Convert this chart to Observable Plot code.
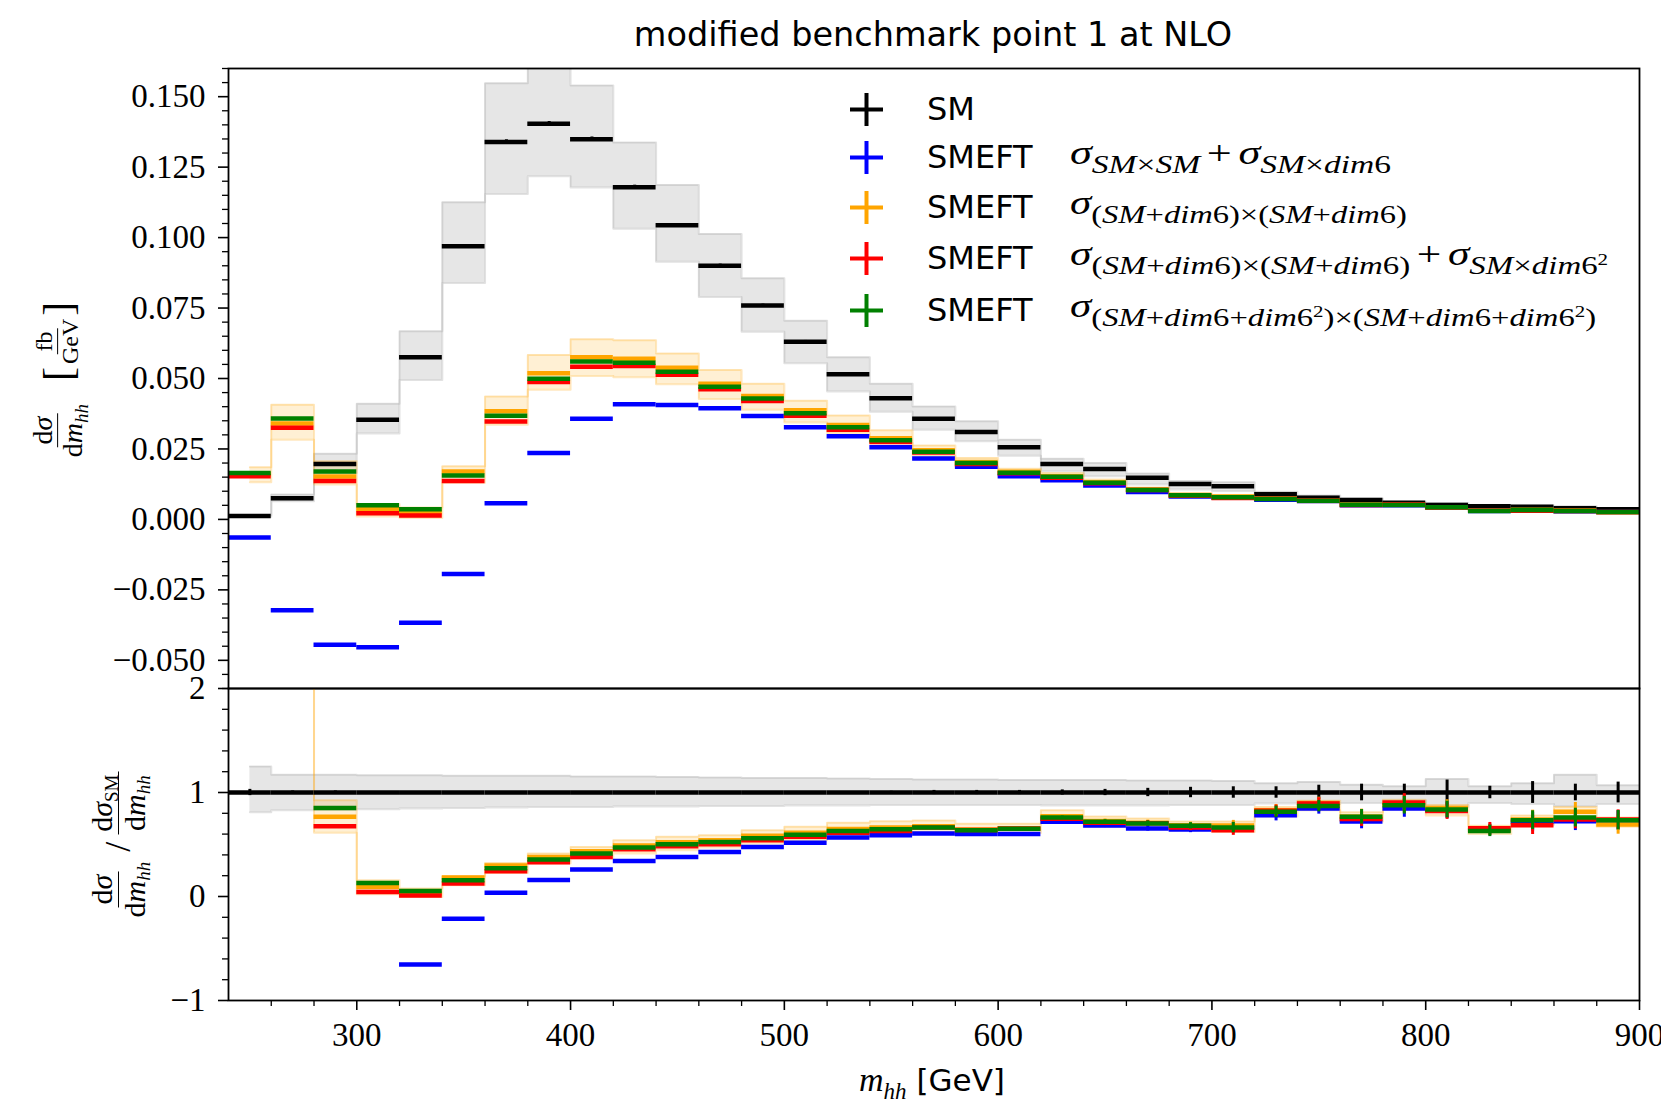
<!DOCTYPE html>
<html><head><meta charset="utf-8">
<script src="https://cdn.jsdelivr.net/npm/d3@7"></script>
<script src="https://cdn.jsdelivr.net/npm/@observablehq/plot@0.6"></script>
<style>
html,body{margin:0;padding:0;background:#fff;overflow:hidden}
#fig{position:relative;width:1661px;height:1102px;background:#fff}
#fig svg{position:absolute;left:0;overflow:visible}
.title{position:absolute;left:933px;top:34px;transform:translate(-50%,-50%);font-family:"DejaVu Sans";font-size:33.5px;white-space:nowrap;color:#000}
.leg{position:absolute;left:850px;height:44px;display:flex;align-items:center;white-space:nowrap}
.cross{width:33px;height:33px;margin-right:44px;flex:none}
.lname{font-family:"DejaVu Sans";font-size:32px;width:143px;flex:none}
.math{font-family:"Liberation Serif";font-size:33px;display:inline-block;position:relative;top:-4px;transform-origin:0 50%}
.math sub{font-size:25px;vertical-align:baseline;position:relative;top:0.36em}
.math sup{font-size:16px;vertical-align:baseline;position:relative;top:-0.55em}
.op{padding:0 5px}
.xlab{position:absolute;left:932px;top:1080px;transform:translate(-50%,-50%);white-space:nowrap}
.ylab{position:absolute;transform:translate(-50%,-50%) rotate(-90deg);white-space:nowrap;display:flex;align-items:center;font-family:"Liberation Serif";font-size:28px}
.frac{display:inline-flex;flex-direction:column;align-items:center;line-height:1.05}
.frac>span:first-child{border-bottom:1.7px solid #000}
.frac>span{padding:0 3px}
.ylab sub{font-size:19px;vertical-align:baseline;position:relative;top:0.3em}
</style>
</head><body>
<div id="fig"></div>
<script>
// ---------------- data ----------------
const binLow = [240,260,280,300,320,340,360,380,400,420,440,460,480,500,520,540,560,580,600,620,640,660,680,700,720,740,760,780,800,820,840,860,880];
const binWidth = 20;
const bandStart = 250;

// upper panel: d sigma / d m_hh [fb/GeV]
const smValue = [0.0012,0.0075,0.0197,0.0354,0.0575,0.0969,0.1339,0.1404,0.1349,0.1179,0.1044,0.0900,0.0759,0.0630,0.0515,0.0430,0.0357,0.0310,0.0256,0.0197,0.0179,0.0148,0.0126,0.0118,0.0089,0.0077,0.0069,0.0059,0.0051,0.0047,0.0045,0.0040,0.0036];
const smErr = [0.0001,0.0001,0.0002,0.0003,0.0004,0.0006,0.0008,0.0008,0.0008,0.0007,0.0006,0.0006,0.0005,0.0005,0.0004,0.0003,0.0003,0.0003,0.0003,0.0003,0.0003,0.0003,0.0003,0.0003,0.0003,0.0003,0.0003,0.0003,0.0003,0.0003,0.0003,0.0003,0.0003];
const smBandLo = [0.0009,0.0064,0.0165,0.0305,0.0495,0.0839,0.1155,0.1218,0.1178,0.1031,0.0914,0.0789,0.0666,0.0554,0.0454,0.0382,0.0318,0.0277,0.0226,0.0171,0.0153,0.0124,0.0106,0.0101,0.0080,0.0068,0.0062,0.0054,0.0044,0.0042,0.0040,0.0035,0.0032];
const smBandHi = [0.0015,0.0088,0.0233,0.0410,0.0668,0.1125,0.1548,0.1630,0.1540,0.1337,0.1187,0.1013,0.0856,0.0705,0.0575,0.0481,0.0401,0.0348,0.0283,0.0215,0.0200,0.0163,0.0136,0.0132,0.0098,0.0085,0.0074,0.0063,0.0058,0.0050,0.0049,0.0047,0.0039];
const blueValue = [-0.0064,-0.0322,-0.0445,-0.0454,-0.0367,-0.0194,0.0057,0.0236,0.0357,0.0409,0.0406,0.0394,0.0367,0.0327,0.0295,0.0256,0.0216,0.0187,0.0153,0.0139,0.0120,0.0097,0.0081,0.0078,0.0070,0.0065,0.0050,0.0050,0.0042,0.0030,0.0032,0.0029,0.0026];
const orangeValue = [0.0160,0.0340,0.0152,0.0036,0.0026,0.0170,0.0384,0.0519,0.0575,0.0570,0.0538,0.0481,0.0438,0.0387,0.0335,0.0288,0.0245,0.0204,0.0169,0.0153,0.0132,0.0106,0.0087,0.0081,0.0074,0.0067,0.0053,0.0052,0.0043,0.0031,0.0034,0.0032,0.0025];
const redValue = [0.0153,0.0325,0.0136,0.0022,0.0014,0.0136,0.0347,0.0488,0.0542,0.0544,0.0513,0.0462,0.0420,0.0368,0.0318,0.0275,0.0237,0.0197,0.0164,0.0148,0.0128,0.0104,0.0084,0.0076,0.0073,0.0068,0.0051,0.0053,0.0042,0.0031,0.0031,0.0030,0.0026];
const greenValue = [0.0165,0.0358,0.0170,0.0050,0.0036,0.0156,0.0368,0.0499,0.0560,0.0556,0.0524,0.0471,0.0429,0.0377,0.0327,0.0281,0.0240,0.0200,0.0166,0.0151,0.0130,0.0104,0.0086,0.0079,0.0072,0.0066,0.0052,0.0051,0.0043,0.0030,0.0033,0.0030,0.0026];
const orangeBandLo = [0.0132,0.0283,0.0124,0.0010,0.0005,0.0130,0.0336,0.0460,0.0509,0.0504,0.0480,0.0427,0.0389,0.0344,0.0307,0.0271,0.0225,0.0187,0.0155,0.0140,0.0122,0.0097,0.0080,0.0073,0.0066,0.0059,0.0046,0.0047,0.0037,0.0030,0.0031,0.0025,0.0023];
const orangeBandHi = [0.0185,0.0407,0.0206,0.0055,0.0042,0.0189,0.0436,0.0583,0.0639,0.0636,0.0589,0.0530,0.0481,0.0421,0.0369,0.0316,0.0262,0.0218,0.0180,0.0165,0.0142,0.0113,0.0093,0.0086,0.0078,0.0069,0.0055,0.0054,0.0043,0.0035,0.0036,0.0030,0.0027];

// lower panel: ratio to SM
const smRatioErr = [0.03,0.015,0.015,0.008,0.008,0.008,0.008,0.008,0.008,0.008,0.008,0.008,0.008,0.008,0.008,0.012,0.02,0.02,0.02,0.025,0.03,0.04,0.05,0.055,0.055,0.07,0.08,0.08,0.12,0.06,0.105,0.08,0.10];
const smRatioBandLo = [0.81,0.83,0.835,0.84,0.845,0.85,0.855,0.86,0.86,0.865,0.865,0.87,0.87,0.875,0.875,0.88,0.88,0.88,0.88,0.875,0.875,0.875,0.88,0.88,0.895,0.89,0.90,0.92,0.86,0.90,0.89,0.87,0.89];
const smRatioBandHi = [1.25,1.17,1.17,1.165,1.165,1.16,1.16,1.16,1.155,1.155,1.15,1.145,1.14,1.14,1.135,1.13,1.125,1.125,1.12,1.12,1.12,1.115,1.115,1.11,1.09,1.10,1.075,1.06,1.13,1.06,1.09,1.17,1.07];
const blueRatio = [-6.4,-4.3,-2.3,-1.3,-0.655,-0.213,0.037,0.159,0.259,0.342,0.381,0.429,0.477,0.516,0.567,0.59,0.606,0.60,0.60,0.718,0.683,0.654,0.644,0.66,0.782,0.847,0.721,0.847,0.83,0.64,0.718,0.724,0.73];
const orangeRatio = [16,4.5,0.766,0.092,0.028,0.182,0.298,0.381,0.436,0.49,0.522,0.541,0.583,0.612,0.65,0.663,0.676,0.645,0.655,0.772,0.725,0.71,0.685,0.682,0.83,0.90,0.77,0.89,0.85,0.64,0.74,0.814,0.692];
const redRatio = [15,4.3,0.676,0.044,0.009,0.124,0.243,0.33,0.381,0.455,0.484,0.503,0.541,0.574,0.612,0.631,0.663,0.64,0.654,0.747,0.709,0.705,0.663,0.638,0.824,0.895,0.744,0.904,0.821,0.657,0.686,0.74,0.74];
const greenRatio = [16.5,4.8,0.85,0.131,0.053,0.156,0.272,0.355,0.413,0.471,0.503,0.525,0.56,0.593,0.631,0.647,0.663,0.638,0.651,0.759,0.718,0.702,0.68,0.663,0.814,0.869,0.766,0.878,0.837,0.631,0.734,0.759,0.734];
const smeftRatioErr = [0,0,0,0,0,0,0,0,0,0,0,0,0,0,0,0,0,0,0.01,0.015,0.02,0.025,0.03,0.05,0.055,0.055,0.07,0.085,0.08,0.055,0.09,0.09,0.093];
const orangeRatioBandLo = [13,3.8,0.612,0.022,-0.004,0.108,0.227,0.317,0.365,0.413,0.445,0.471,0.509,0.541,0.58,0.599,0.62,0.60,0.61,0.71,0.67,0.66,0.64,0.62,0.77,0.83,0.72,0.84,0.78,0.60,0.69,0.76,0.67];
const orangeRatioBandHi = [19,5.4,0.926,0.156,0.076,0.195,0.323,0.413,0.477,0.541,0.574,0.59,0.638,0.67,0.708,0.724,0.73,0.70,0.70,0.83,0.77,0.75,0.72,0.72,0.86,0.92,0.81,0.93,0.88,0.68,0.78,0.86,0.76];

// ticks
const xTicks = [300,400,500,600,700,800,900];
const yTicksUpper = [-0.05,-0.025,0,0.025,0.05,0.075,0.1,0.125,0.15];
const yTicksLower = [-1,0,1,2];

const colors = {sm:"#000000", blue:"#0000ff", orange:"#ffa500", red:"#ff0000", green:"#008000"};

// --------------- build tables ---------------
const rows = binLow.map((lo, i) => ({
  lo, hi: lo + binWidth, c: lo + binWidth / 2,
  sm: smValue[i], smErr: smErr[i],
  blue: blueValue[i], orange: orangeValue[i], red: redValue[i], green: greenValue[i],
  rSmErr: smRatioErr[i],
  rBlue: blueRatio[i], rOrange: orangeRatio[i], rRed: redRatio[i], rGreen: greenRatio[i],
  rErr: smeftRatioErr[i]
}));
function bandPts(loArr, hiArr) {
  const pts = binLow.map((x, i) => ({x: i === 0 ? bandStart : x, lo: loArr[i], hi: hiArr[i]}));
  const n = binLow.length - 1;
  pts.push({x: binLow[n] + binWidth, lo: loArr[n], hi: hiArr[n]});
  return pts;
}
function bandMarks(pts, fill, fillOpacity, stroke, strokeOpacity) {
  return [
    Plot.areaY(pts, {x: "x", y1: "lo", y2: "hi", curve: "step-after", fill, fillOpacity, clip: true}),
    Plot.lineY(pts, {x: "x", y: "lo", curve: "step-after", stroke, strokeOpacity, strokeWidth: 2, clip: true}),
    Plot.lineY(pts, {x: "x", y: "hi", curve: "step-after", stroke, strokeOpacity, strokeWidth: 2, clip: true})
  ];
}
const minus = s => s.replace("-", "\u2212");
const round = v => Math.round(v * 1e6) / 1e6;
const yMinorUpper = d3.range(-60, 161, 5).map(v => round(v / 1000)).filter(v => !yTicksUpper.some(t => Math.abs(t - v) < 1e-9));
const yMinorLower = d3.range(-10, 21, 2).map(v => round(v / 10)).filter(v => !yTicksLower.includes(v));
const xMinor = d3.range(260, 900, 20).filter(v => !xTicks.includes(v));

const style = {fontFamily: "Liberation Serif", fontSize: "33px", background: "transparent", overflow: "visible", color: "#000"};
const W = 1661;

const hSeg = (y, stroke) => Plot.ruleY(rows, {y, x1: "lo", x2: "hi", stroke, strokeWidth: 4.5, clip: true});

const upper = Plot.plot({
  width: W, height: 689,
  marginLeft: 228, marginRight: 22, marginTop: 68, marginBottom: 1,
  style,
  x: {domain: [240, 900], axis: null},
  y: {domain: [-0.06, 0.16], axis: null},
  marks: [
    ...bandMarks(bandPts(smBandLo, smBandHi), "#808080", 0.2, "#a0a0a0", 0.3),
    ...bandMarks(bandPts(orangeBandLo, orangeBandHi), colors.orange, 0.17, colors.orange, 0.25),
    hSeg("sm", colors.sm),
    Plot.ruleX(rows, {x: "c", y1: d => d.sm - d.smErr, y2: d => d.sm + d.smErr, stroke: colors.sm, strokeWidth: 3, clip: true}),
    hSeg("blue", colors.blue),
    hSeg("orange", colors.orange),
    hSeg("red", colors.red),
    hSeg("green", colors.green),
    Plot.axisY(yTicksUpper, {anchor: "left", label: null, tickSize: 10, tickPadding: 13, strokeWidth: 1.6, tickFormat: d => minus(d.toFixed(3))}),
    Plot.axisY(yMinorUpper, {anchor: "left", label: null, tickSize: 6, strokeWidth: 1.3, tickFormat: () => ""}),
    Plot.frame({stroke: "#000", strokeWidth: 1.8})
  ]
});
upper.style.top = "0px";

const lower = Plot.plot({
  width: W, height: 414,
  marginLeft: 228, marginRight: 22, marginTop: 0, marginBottom: 102,
  style,
  x: {domain: [240, 900], axis: null},
  y: {domain: [-1, 2], axis: null},
  marks: [
    ...bandMarks(bandPts(smRatioBandLo, smRatioBandHi), "#808080", 0.2, "#a0a0a0", 0.3),
    ...bandMarks(bandPts(orangeRatioBandLo, orangeRatioBandHi), colors.orange, 0.17, colors.orange, 0.25),
    Plot.ruleY(rows, {y: 1, x1: "lo", x2: "hi", stroke: colors.sm, strokeWidth: 4.5, clip: true}),
    Plot.ruleX(rows, {x: "c", y1: d => 1 - d.rSmErr, y2: d => 1 + d.rSmErr, stroke: colors.sm, strokeWidth: 3, clip: true}),
    ...[["rBlue", colors.blue], ["rOrange", colors.orange], ["rRed", colors.red], ["rGreen", colors.green]].flatMap(([k, c]) => [
      hSeg(k, c),
      Plot.ruleX(rows.filter(d => d.rErr > 0), {x: "c", y1: d => d[k] - d.rErr, y2: d => d[k] + d.rErr, stroke: c, strokeWidth: 3, clip: true})
    ]),
    Plot.axisY(yTicksLower, {anchor: "left", label: null, tickSize: 10, tickPadding: 13, strokeWidth: 1.6, tickFormat: d => minus(String(d))}),
    Plot.axisY(yMinorLower, {anchor: "left", label: null, tickSize: 6, strokeWidth: 1.3, tickFormat: () => ""}),
    Plot.axisX(xTicks, {anchor: "bottom", label: null, tickSize: 10, tickPadding: 12, strokeWidth: 1.6, tickFormat: d => String(d)}),
    Plot.axisX(xMinor, {anchor: "bottom", label: null, tickSize: 6, strokeWidth: 1.3, tickFormat: () => ""}),
    Plot.frame({stroke: "#000", strokeWidth: 1.8})
  ]
});
lower.style.top = "688px";

const fig = document.getElementById("fig");
fig.appendChild(upper);
fig.appendChild(lower);

// --------------- text: title, legend, axis labels ---------------
const legendItems = [
  {name: "SM", color: colors.sm, y: 109, math: "", target: 0},
  {name: "SMEFT", color: colors.blue, y: 157, target: 321,
   math: '<i>σ</i><sub><i>SM</i>×<i>SM</i></sub><span class="op">+</span><i>σ</i><sub><i>SM</i>×<i>dim</i>6</sub>'},
  {name: "SMEFT", color: colors.orange, y: 207, target: 337,
   math: '<i>σ</i><sub>(<i>SM</i>+<i>dim</i>6)×(<i>SM</i>+<i>dim</i>6)</sub>'},
  {name: "SMEFT", color: colors.red, y: 258, target: 538,
   math: '<i>σ</i><sub>(<i>SM</i>+<i>dim</i>6)×(<i>SM</i>+<i>dim</i>6)</sub><span class="op">+</span><i>σ</i><sub><i>SM</i>×<i>dim</i>6<sup>2</sup></sub>'},
  {name: "SMEFT", color: colors.green, y: 310, target: 526,
   math: '<i>σ</i><sub>(<i>SM</i>+<i>dim</i>6+<i>dim</i>6<sup>2</sup>)×(<i>SM</i>+<i>dim</i>6+<i>dim</i>6<sup>2</sup>)</sub>'}
];

let html = '<div class="title">modified benchmark point 1 at NLO</div>';
for (const it of legendItems) {
  html += `<div class="leg" style="top:${it.y - 22}px">
    <svg class="cross" viewBox="0 0 33 33" style="position:static"><line x1="0" y1="16.5" x2="33" y2="16.5" stroke="${it.color}" stroke-width="4"/><line x1="16.5" y1="0" x2="16.5" y2="33" stroke="${it.color}" stroke-width="4"/></svg>
    <span class="lname">${it.name}</span>${it.math ? `<span class="math" data-target="${it.target}">${it.math}</span>` : ""}</div>`;
}
html += `<div class="xlab"><span style="font-family:'Liberation Serif';font-style:italic;font-size:34px">m</span><span style="font-family:'Liberation Serif';font-style:italic;font-size:23px;position:relative;top:0.35em">hh</span><span style="font-family:'DejaVu Sans';font-size:31px">&nbsp;[GeV]</span></div>`;
html += `<div class="ylab" style="left:58px;top:381px">
  <span class="frac"><span>d<i>σ</i></span><span>d<i>m</i><sub><i>hh</i></sub></span></span>
  <span style="width:20px"></span>
  <span style="font-size:42px">[</span><span class="frac" style="font-size:24px"><span>fb</span><span>GeV</span></span><span style="font-size:42px">]</span>
</div>`;
html += `<div class="ylab" style="left:118px;top:846px;font-size:30px">
  <span class="frac"><span>d<i>σ</i></span><span>d<i>m</i><sub><i>hh</i></sub></span></span>
  <span style="font-size:36px;padding:0 7px">/</span>
  <span class="frac"><span>d<i>σ</i><sub>SM</sub></span><span>d<i>m</i><sub><i>hh</i></sub></span></span>
</div>`;
const overlay = document.createElement("div");
overlay.innerHTML = html;
while (overlay.firstChild) fig.appendChild(overlay.firstChild);

function fitMath() {
  document.querySelectorAll(".math").forEach(el => {
    el.style.transform = "none";
    const t = +el.dataset.target;
    const w = el.getBoundingClientRect().width;
    if (t && w) el.style.transform = `scaleX(${(t / w).toFixed(3)})`;
  });
}
fitMath();
if (document.fonts && document.fonts.ready) document.fonts.ready.then(fitMath);
</script>
</body></html>
